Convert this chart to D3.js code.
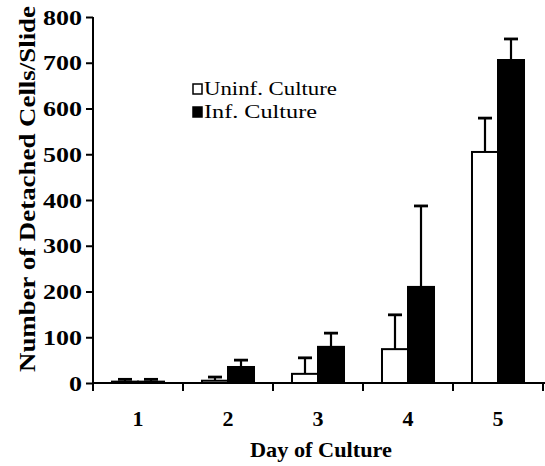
<!DOCTYPE html>
<html><head><meta charset="utf-8">
<script src="https://cdn.jsdelivr.net/npm/d3@7"></script>
<style>body{margin:0;background:#fff}</style>
</head><body><svg id="c" width="545" height="466"></svg>
<script>
const days = ["1","2","3","4","5"];
const seriesNames = ["Uninf. Culture","Inf. Culture"];
const uninf = [3, 5, 20, 74, 505];
const uninfErr = [5, 8, 35, 75, 74];
const inf = [3, 35, 79, 210, 706];
const infErr = [5, 15, 30, 177, 46];
const yTicks = [0,100,200,300,400,500,600,700,800];

const svg = d3.select("#c");
const x0 = d3.scaleBand().domain(days).range([93,543]).padding(0);
const x1 = d3.scaleBand().domain(seriesNames).range([0,x0.bandwidth()]).paddingInner(0).paddingOuter(0.73);
const y = d3.scaleLinear().domain([0,800]).range([383,17]);
const serif = "Liberation Serif, Times New Roman, serif";

const data = days.map((d,i)=>[
  {day:d, s:seriesNames[0], v:uninf[i], e:uninfErr[i], fill:"#fff"},
  {day:d, s:seriesNames[1], v:inf[i], e:infErr[i], fill:"#000"}
]).flat();

// error bars
const eb = svg.append("g");
data.forEach(d=>{
  const cx = x0(d.day)+x1(d.s)+x1.bandwidth()/2;
  eb.append("line").attr("x1",cx).attr("x2",cx).attr("y1",y(d.v)).attr("y2",y(d.v+d.e)).attr("stroke","#000").attr("stroke-width",2.2);
  eb.append("line").attr("x1",cx-7).attr("x2",cx+7).attr("y1",y(d.v+d.e)).attr("y2",y(d.v+d.e)).attr("stroke","#000").attr("stroke-width",2.8);
});
// bars
svg.append("g").selectAll("rect").data(data).join("rect")
  .attr("x",d=>x0(d.day)+x1(d.s))
  .attr("width",x1.bandwidth())
  .attr("y",d=>y(d.v))
  .attr("height",d=>y(0)-y(d.v))
  .attr("fill",d=>d.fill).attr("stroke","#000").attr("stroke-width",2);

// y axis
const ya = svg.append("g").attr("transform","translate(93,0)")
  .call(d3.axisLeft(y).tickValues(yTicks).tickSize(7).tickPadding(4));
ya.select(".domain").attr("stroke-width",2).attr("d","M0,17V383");
ya.selectAll(".tick line").attr("stroke-width",2);
ya.selectAll(".tick text").attr("font-family",serif).attr("font-weight","bold").attr("font-size",22).attr("fill","#000")
  .attr("textLength",d=>String(d).length*13).attr("lengthAdjust","spacingAndGlyphs");

// x axis
const xa = svg.append("g").attr("transform","translate(0,383)")
  .call(d3.axisBottom(x0).tickSize(0).tickPadding(27));
xa.select(".domain").attr("stroke-width",2).attr("d","M93,0H545");
xa.selectAll(".tick text").attr("font-family",serif).attr("font-weight","bold").attr("font-size",22).attr("fill","#000");
const bounds = days.map(d=>x0(d)).concat([x0.range()[1]]);
xa.selectAll(".btick").data(bounds).join("line").attr("class","btick")
  .attr("x1",d=>d).attr("x2",d=>d).attr("y1",0).attr("y2",8).attr("stroke","#000").attr("stroke-width",2);

// axis titles
svg.append("text").attr("x",321).attr("y",457).attr("text-anchor","middle")
  .attr("font-family",serif).attr("font-weight","bold").attr("font-size",22)
  .attr("textLength",142).attr("lengthAdjust","spacingAndGlyphs").text("Day of Culture");
svg.append("text").attr("transform","translate(35,189) rotate(-90)").attr("text-anchor","middle")
  .attr("font-family",serif).attr("font-weight","bold").attr("font-size",24)
  .attr("textLength",366).attr("lengthAdjust","spacingAndGlyphs").text("Number of Detached Cells/Slide");

// legend
const lg = svg.append("g");
seriesNames.forEach((s,i)=>{
  const yy = 89 + i*23;
  lg.append("rect").attr("x",193).attr("y",yy-5).attr("width",9).attr("height",10)
    .attr("fill",i===0?"#fff":"#000").attr("stroke","#000").attr("stroke-width",1.5);
  lg.append("text").attr("x",204).attr("y",yy+6).attr("font-family",serif).attr("font-size",19)
    .attr("textLength",i===0?133:113).attr("lengthAdjust","spacingAndGlyphs").text(s);
});
</script></body></html>
